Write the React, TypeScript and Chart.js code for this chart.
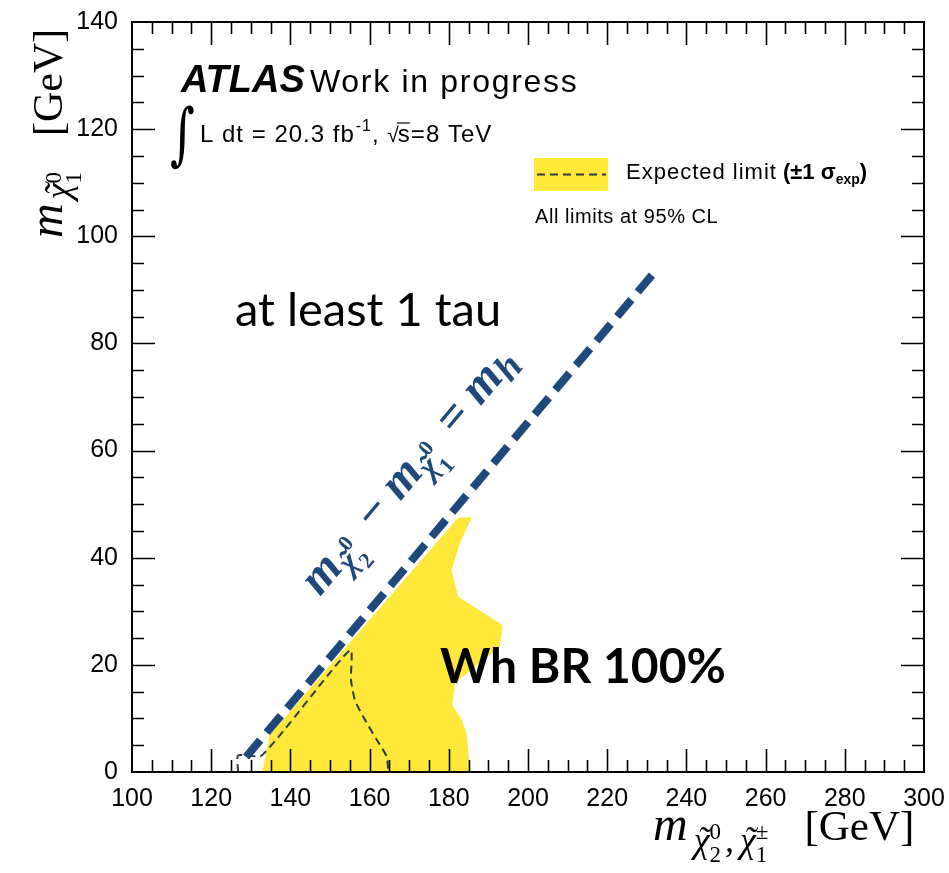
import React, { useEffect, useRef } from "react";
import { Chart, registerables } from "chart.js";

Chart.register(...registerables);

// ---------- data ----------
const X_MIN = 100;
const X_MAX = 300;
const Y_MIN = 0;
const Y_MAX = 140;
const MAJOR_STEP = 20;
const MINOR_STEP = 5;

// Expected limit +-1 sigma band (closed polygon, GeV)
const bandX = [132.9, 134.8, 182.4, 185.8, 182.8, 180.7, 182.4, 193.6, 192.9, 181.6, 180.9, 183.3, 184.5, 185.4];
const bandY = [0, 6.9, 47.5, 47.5, 42.7, 37.7, 32.7, 27.4, 23.4, 16.6, 12.5, 9.7, 7.2, 0];

// Expected limit (dashed)
const expX = [126.8, 126.8, 132.8, 155.1, 155.3, 156.3, 158.4, 161.8, 164.3, 164.7];
const expY = [0, 3.1, 3.1, 22.8, 17.2, 13.4, 10.3, 6.0, 2.9, 0];

// Kinematic line m(chi2) - m(chi1) = m(h)
const kinX = [128.8, 231.6];
const kinY = [2.8, 93.0];

const YELLOW = "#FFE839";
const BLUE = "#1F497D";
const EXP_COLOR = "#2E3B43";

const toPts = (xs: number[], ys: number[]) => xs.map((x, i) => ({ x, y: ys[i] }));

type Piece = {
  t: string;
  font: string;
  dy?: number;
  tilde?: boolean;
  tildeDx?: number;
  sup?: string;
  sub?: string;
  sfont?: string;
  supDy?: number;
  subDy?: number;
  gap?: number;
  pre?: number;
};

function drawMath(ctx: CanvasRenderingContext2D, pieces: Piece[], x: number, y: number) {
  let cx = x;
  for (const p of pieces) {
    cx += p.pre || 0;
    ctx.font = p.font;
    const by = y + (p.dy || 0);
    ctx.fillText(p.t, cx, by);
    const w = ctx.measureText(p.t).width;
    if (p.tilde) {
      const tw = ctx.measureText("\u02DC").width;
      ctx.fillText("\u02DC", cx + (w - tw) / 2 + (p.tildeDx || 0), by);
    }
    cx += w;
    if (p.sup || p.sub) {
      ctx.font = p.sfont || p.font;
      let sw = 0;
      if (p.sup) {
        ctx.fillText(p.sup, cx, by + (p.supDy || 0));
        sw = Math.max(sw, ctx.measureText(p.sup).width);
      }
      if (p.sub) {
        ctx.fillText(p.sub, cx, by + (p.subDy || 0));
        sw = Math.max(sw, ctx.measureText(p.sub).width);
      }
      cx += sw;
    }
    cx += p.gap || 0;
  }
  return cx - x;
}

const SANS = '"Liberation Sans", Arial, sans-serif';
const SERIF = '"Liberation Serif", "DejaVu Serif", serif';
const CAL = 'Lato, "Open Sans", sans-serif';

function spaced(ctx: CanvasRenderingContext2D, px: number) {
  (ctx as any).letterSpacing = `${px}px`;
}

const decorPlugin = {
  id: "decor",
  afterDraw(chart: any) {
    const ctx: CanvasRenderingContext2D = chart.ctx;
    const { left, right, top, bottom } = chart.chartArea;
    const xs = chart.scales.x;
    const ys = chart.scales.y;
    ctx.save();

    // ---- frame + inward ticks ----
    ctx.strokeStyle = "#000";
    ctx.lineWidth = 1.6;
    for (let v = X_MIN + MINOR_STEP; v < X_MAX; v += MINOR_STEP) {
      const px = Math.round(xs.getPixelForValue(v)) + 0.5;
      const len = v % MAJOR_STEP === 0 ? 23 : 12;
      ctx.beginPath();
      ctx.moveTo(px, bottom);
      ctx.lineTo(px, bottom - len);
      ctx.moveTo(px, top);
      ctx.lineTo(px, top + len);
      ctx.stroke();
    }
    for (let v = Y_MIN + MINOR_STEP; v < Y_MAX; v += MINOR_STEP) {
      const py = Math.round(ys.getPixelForValue(v)) + 0.5;
      const len = v % MAJOR_STEP === 0 ? 23 : 12;
      ctx.beginPath();
      ctx.moveTo(left, py);
      ctx.lineTo(left + len, py);
      ctx.moveTo(right, py);
      ctx.lineTo(right - len, py);
      ctx.stroke();
    }
    ctx.lineWidth = 2;
    ctx.strokeRect(left, top, right - left, bottom - top);

    ctx.fillStyle = "#000";
    ctx.textBaseline = "alphabetic";
    ctx.textAlign = "left";

    // ---- ATLAS label ----
    ctx.font = `italic bold 38px ${SANS}`;
    ctx.fillText("ATLAS", 181, 92);
    spaced(ctx, 1.7);
    ctx.font = `32px ${SANS}`;
    ctx.fillText("Work in progress", 310, 92);
    spaced(ctx, 0);

    ctx.save();
    ctx.translate(170, 157);
    ctx.scale(0.7, 1);
    ctx.font = `68px "DejaVu Serif", serif`;
    ctx.fillText("\u222B", 0, 0);
    ctx.restore();

    let cx = 200;
    const lumY = 142;
    spaced(ctx, 1);
    ctx.font = `24px ${SANS}`;
    ctx.fillText("L dt = 20.3 fb", cx, lumY);
    cx += ctx.measureText("L dt = 20.3 fb").width;
    ctx.font = `16px ${SANS}`;
    ctx.fillText("-1", cx + 1, lumY - 11);
    cx += ctx.measureText("-1").width + 1;
    ctx.font = `24px ${SANS}`;
    ctx.fillText(", ", cx, lumY);
    cx += ctx.measureText(", ").width;
    ctx.font = `21px ${SANS}`;
    ctx.fillText("\u221A", cx, lumY);
    cx += ctx.measureText("\u221A").width - 2;
    ctx.font = `24px ${SANS}`;
    const sw = ctx.measureText("s").width;
    ctx.fillText("s", cx, lumY);
    ctx.lineWidth = 1.2;
    ctx.beginPath();
    ctx.moveTo(cx - 1, lumY - 19);
    ctx.lineTo(cx + sw - 1, lumY - 19);
    ctx.stroke();
    cx += sw;
    ctx.fillText("=8 TeV", cx, lumY);
    spaced(ctx, 0);

    // ---- legend ----
    ctx.fillStyle = YELLOW;
    ctx.fillRect(534, 158, 74, 33);
    ctx.strokeStyle = EXP_COLOR;
    ctx.lineWidth = 2;
    ctx.setLineDash([8, 5]);
    ctx.beginPath();
    ctx.moveTo(537, 174.5);
    ctx.lineTo(606, 174.5);
    ctx.stroke();
    ctx.setLineDash([]);
    ctx.fillStyle = "#000";
    spaced(ctx, 1);
    ctx.font = `22px ${SANS}`;
    ctx.fillText("Expected limit", 626, 179);
    cx = 626 + ctx.measureText("Expected limit").width + 6;
    spaced(ctx, 0);
    ctx.font = `bold 22px ${SANS}`;
    ctx.fillText("(\u00B11 \u03C3", cx, 179);
    cx += ctx.measureText("(\u00B11 \u03C3").width;
    ctx.font = `bold 14px ${SANS}`;
    ctx.fillText("exp", cx, 184);
    cx += ctx.measureText("exp").width;
    ctx.font = `bold 22px ${SANS}`;
    ctx.fillText(")", cx, 179);
    spaced(ctx, 0.55);
    ctx.font = `20px ${SANS}`;
    ctx.fillText("All limits at 95% CL", 535, 223);
    spaced(ctx, 0);

    // ---- annotations ----
    ctx.font = `47px ${CAL}`;
    ctx.fillText("at least 1 tau", 235, 326);
    ctx.font = `bold 48px ${CAL}`;
    ctx.fillText("Wh BR 100%", 440, 683);

    // ---- kinematic line label ----
    const p1x = xs.getPixelForValue(kinX[0]);
    const p1y = ys.getPixelForValue(kinY[0]);
    const p2x = xs.getPixelForValue(kinX[1]);
    const p2y = ys.getPixelForValue(kinY[1]);
    const ang = Math.atan2(p2y - p1y, p2x - p1x);
    ctx.save();
    ctx.fillStyle = BLUE;
    ctx.translate(320, 597);
    ctx.rotate(ang);
    const bM = `italic bold 48px ${SERIF}`;
    const bS = `italic bold 32px ${SERIF}`;
    const bSS = `bold 22px ${SERIF}`;
    const bOp = `bold 48px ${SERIF}`;
    drawMath(
      ctx,
      [
        { t: "m", font: bM },
        { t: "\u03C7", font: bS, dy: 9, tilde: true, tildeDx: 2, sup: "0", sub: "2", sfont: bSS, supDy: -17, subDy: 10 },
        { t: "\u2212", font: bOp, pre: 22, gap: 12 },
        { t: "m", font: bM },
        { t: "\u03C7", font: bS, dy: 9, tilde: true, tildeDx: 2, sup: "0", sub: "1", sfont: bSS, supDy: -17, subDy: 10 },
        { t: "=", font: bOp, pre: 22, gap: 12 },
        { t: "m", font: bM },
        { t: "h", font: `italic bold 38px ${SERIF}`, dy: 8 },
      ],
      0,
      0
    );
    ctx.restore();

    // ---- axis titles ----
    ctx.fillStyle = "#000";
    const tM = `italic 48px ${SERIF}`;
    const tS = `italic 36px ${SERIF}`;
    const tSS = `23px ${SERIF}`;
    // x title
    drawMath(
      ctx,
      [
        { t: "m", font: tM, gap: 6 },
        { t: "\u03C7", font: tS, dy: 12, tilde: true, tildeDx: 2, sup: "0", sub: "2", sfont: tSS, supDy: -13, subDy: 10, gap: 4 },
        { t: ",", font: tS, dy: 12, gap: 6 },
        { t: "\u03C7", font: tS, dy: 12, tilde: true, tildeDx: 2, sup: "\u00B1", sub: "1", sfont: tSS, supDy: -13, subDy: 10, gap: 36 },
        { t: "[GeV]", font: `43px ${SERIF}` },
      ],
      653,
      840
    );
    // y title
    ctx.save();
    ctx.translate(62, 238);
    ctx.rotate(-Math.PI / 2);
    drawMath(
      ctx,
      [
        { t: "m", font: tM, gap: 4 },
        { t: "\u03C7", font: tS, dy: 8, tilde: true, tildeDx: 2, sup: "0", sub: "1", sfont: tSS, supDy: -9, subDy: 11, gap: 36 },
        { t: "[GeV]", font: `42px ${SERIF}` },
      ],
      0,
      0
    );
    ctx.restore();

    ctx.restore();
  },
};

const zeroPad = (s: any) => {
  s.paddingTop = 0;
  s.paddingBottom = 0;
  s.paddingLeft = 0;
  s.paddingRight = 0;
};

export default function App() {
  const ref = useRef<HTMLCanvasElement | null>(null);

  useEffect(() => {
    document.body.style.margin = "0";
    const canvas = ref.current;
    if (!canvas) return;
    const chart = new Chart(canvas, {
      type: "scatter",
      data: {
        datasets: [
          {
            label: "m_h line",
            data: toPts(kinX, kinY),
            showLine: true,
            borderColor: BLUE,
            borderWidth: 8,
            borderDash: [22, 10],
            borderCapStyle: "butt",
            pointRadius: 0,
            fill: false,
            order: 1,
          } as any,
          {
            label: "Expected limit",
            data: toPts(expX, expY),
            showLine: true,
            borderColor: EXP_COLOR,
            borderWidth: 2,
            borderDash: [8, 5],
            pointRadius: 0,
            tension: 0.2,
            fill: false,
            order: 2,
          } as any,
          {
            label: "Expected band",
            data: toPts(bandX, bandY),
            showLine: true,
            borderColor: YELLOW,
            borderWidth: 0,
            backgroundColor: YELLOW,
            pointRadius: 0,
            fill: "shape",
            order: 3,
          } as any,
        ],
      },
      options: {
        responsive: false,
        animation: false,
        events: [],
        layout: { padding: { left: 0, right: 25, top: 22, bottom: 0 } },
        plugins: {
          legend: { display: false },
          tooltip: { enabled: false },
        },
        scales: {
          x: {
            type: "linear",
            min: X_MIN,
            max: X_MAX,
            grid: { display: false, drawTicks: false },
            border: { display: false },
            ticks: {
              stepSize: MAJOR_STEP,
              padding: 12,
              color: "#000",
              font: { family: "Liberation Sans", size: 25 },
              maxRotation: 0,
            },
            afterFit: (s: any) => {
              s.height = 101;
              zeroPad(s);
            },
          },
          y: {
            type: "linear",
            min: Y_MIN,
            max: Y_MAX,
            grid: { display: false, drawTicks: false },
            border: { display: false },
            ticks: {
              stepSize: MAJOR_STEP,
              padding: 14,
              color: "#000",
              font: { family: "Liberation Sans", size: 25 },
            },
            afterFit: (s: any) => {
              s.width = 132;
              zeroPad(s);
            },
          },
        },
      },
      plugins: [decorPlugin],
    });
    return () => chart.destroy();
  }, []);

  return <canvas ref={ref} width={949} height={873} style={{ display: "block" }} />;
}
